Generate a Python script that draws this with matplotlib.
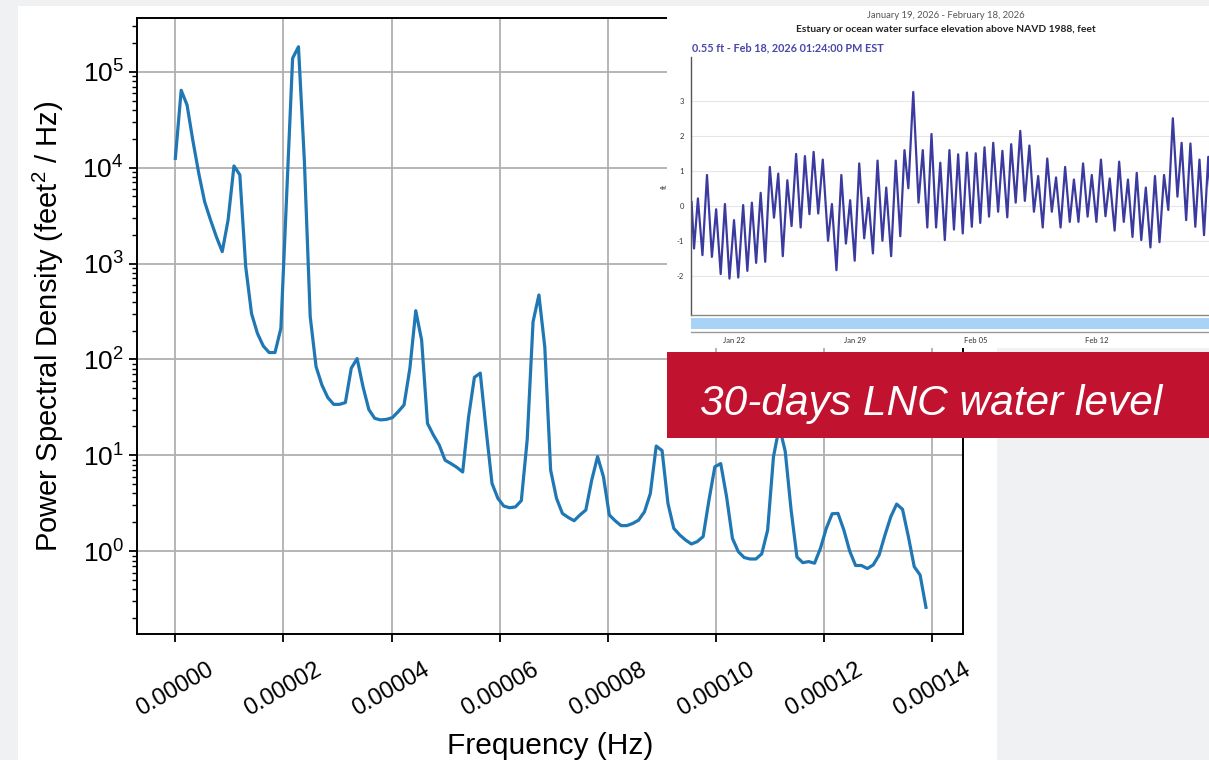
import numpy as np
import matplotlib
matplotlib.use("Agg")
import matplotlib.pyplot as plt
from matplotlib.patches import Rectangle
from matplotlib.lines import Line2D
from datetime import datetime

plt.rcParams['font.family'] = ['Liberation Sans', 'DejaVu Sans']
plt.rcParams['mathtext.fontset'] = 'custom'
plt.rcParams['mathtext.rm'] = 'Liberation Sans'
plt.rcParams['mathtext.it'] = 'Liberation Sans:italic'
plt.rcParams['mathtext.bf'] = 'Liberation Sans:bold'

# ---------------- data: power spectral density (Welch, 1-hour samples) ----------------
sample_interval_s = 3600
segment_length = 256
psd_values = [
    1.25e4, 6.4e4, 4.5e4, 1.9e4, 8.7e3, 4.4e3, 2.85e3, 1.9e3, 1.33e3, 2.85e3,
    1.04e4, 8.4e3, 930, 300, 187, 138, 118, 118, 211, 5.4e3,
    1.38e5, 1.82e5, 1.2e4, 280, 84, 54, 40, 34, 34, 35.5,
    81, 102, 52, 30, 24.3, 23.4, 23.7, 24.7, 28.5, 33.5,
    81, 322, 159, 21.5, 16.3, 12.8, 8.9, 8.2, 7.5, 6.7,
    25, 65, 72, 18.4, 5.1, 3.56, 2.96, 2.84, 2.9, 3.37,
    14.5, 247, 470, 135, 7.0, 3.56, 2.48, 2.25, 2.08, 2.39,
    2.69, 5.5, 9.7, 6.0, 2.39, 2.08, 1.85, 1.85, 1.95, 2.11,
    2.58, 4.0, 12.5, 11.2, 3.16, 1.73, 1.48, 1.31, 1.19, 1.26,
    1.42, 3.42, 7.6, 8.2, 3.7, 1.36, 0.99, 0.86, 0.83, 0.83,
    0.94, 1.66, 9.7, 20, 11, 2.7, 0.87, 0.76, 0.78, 0.75,
    1.07, 1.73, 2.46, 2.48, 1.66, 1.0, 0.71, 0.71, 0.66, 0.72,
    0.91, 1.47, 2.29, 3.1, 2.74, 1.42, 0.69, 0.565, 0.26,
]
freq_ticks = [0.0, 0.00002, 0.00004, 0.00006, 0.00008, 0.00010, 0.00012, 0.00014]
freq_tick_labels = ["0.00000", "0.00002", "0.00004", "0.00006", "0.00008",
                    "0.00010", "0.00012", "0.00014"]

# ---------------- data: 30-day water level (turning points), inset ----------------
series_start = datetime(2026, 1, 19, 13, 24)
hours_since_start = [
    0, 3.4, 8.8, 15.1, 21.4, 28.2, 34.1, 40.4, 46.3, 52.6,
    58.9, 64.8, 71.6, 77.4, 83.7, 89.6, 95.9, 102.2, 108.6, 114.4,
    120.3, 126.6, 132.9, 138.8, 145.1, 151.4, 157.3, 163.6, 169.4, 175.8,
    182.1, 189.4, 194.8, 201.1, 207.9, 214.2, 220.1, 226.4, 232.7, 239.6,
    245.4, 251.7, 258.1, 264.9, 270.2, 277.0, 283.4, 289.7, 295.5, 300.9,
    307.7, 315.0, 320.9, 327.2, 333.0, 339.4, 345.2, 351.5, 357.9, 364.2,
    370.0, 376.4, 382.2, 389.0, 394.4, 400.7, 406.6, 412.9, 418.7, 425.5,
    431.4, 438.2, 443.6, 449.9, 456.2, 462.6, 468.9, 475.2, 481.1, 487.4,
    493.7, 500.0, 505.9, 512.2, 518.5, 524.9, 530.7, 537.0, 543.4, 549.7,
    555.5, 561.9, 568.2, 574.5, 580.4, 587.2, 593.5, 599.9, 605.7, 612.0,
    617.9, 624.2, 630.5, 636.9, 643.2, 649.5, 655.8, 661.7, 668.0, 674.4,
    680.2, 686.5, 692.4, 699.2, 705.0, 711.3, 717.2, 719.6,
]
water_level_ft = [
    0.11, -1.22, 0.21, -1.41, 0.88, -1.46, -0.10, -1.95, 0.05, -2.08,
    -0.41, -2.05, 0.02, -1.86, 0.09, -1.63, 0.37, -1.60, 1.11, -0.34,
    0.92, -1.44, 0.73, -0.58, 1.48, -0.62, 1.42, -0.24, 1.54, -0.22,
    1.32, -1.00, 0.05, -1.84, 0.88, -1.08, 0.16, -1.57, 1.21, -0.93,
    0.23, -1.36, 1.29, -1.00, 0.52, -1.44, 1.29, -0.87, 1.59, 0.50,
    3.25, 0.09, 1.59, -0.62, 2.05, -0.62, 1.23, -0.98, 1.59, -0.68,
    1.47, -0.79, 1.52, -0.60, 1.50, -0.49, 1.67, -0.31, 1.80, -0.17,
    1.57, -0.33, 1.76, 0.09, 2.14, 0.14, 1.72, -0.17, 0.85, -0.62,
    1.35, -0.17, 0.81, -0.62, 1.11, -0.46, 0.75, -0.46, 1.21, -0.31,
    0.88, -0.46, 1.32, -0.30, 0.78, -0.71, 1.26, -0.46, 0.75, -0.89,
    0.94, -0.98, 0.52, -1.19, 0.85, -1.04, 0.88, -0.12, 2.50, 0.26,
    1.80, -0.41, 1.78, -0.60, 1.32, -0.84, 1.40, 0.55,
]
level_ticks = [-2, -1, 0, 1, 2, 3]
date_ticks = [datetime(2026, 1, 22), datetime(2026, 1, 29),
              datetime(2026, 2, 5), datetime(2026, 2, 12)]
date_tick_labels = ["Jan 22", "Jan 29", "Feb 05", "Feb 12"]

inset_subtitle = "January 19, 2026 - February 18, 2026"
inset_title = "Estuary or ocean water surface elevation above NAVD 1988, feet"
inset_latest = "0.55 ft - Feb 18, 2026 01:24:00 PM EST"
banner_text = "30-days LNC water level"

# ---------------- layout helpers ----------------
W, H = 1209, 760
fig = plt.figure(figsize=(W / 100, H / 100), dpi=100)
fig.patch.set_facecolor('#eff1f3')


def fx(px):
    return px / W


def fy(py):
    return 1 - py / H


def frect(x0, y0, x1, y1, color, z):
    r = Rectangle((fx(x0), fy(y1)), fx(x1) - fx(x0), fy(y0) - fy(y1),
                  transform=fig.transFigure, facecolor=color,
                  edgecolor='none', zorder=z)
    fig.add_artist(r)
    return r


# white slide panel
frect(18, 6, 997, 760, 'white', -5)

# ---------------- main PSD axes ----------------
freqs = np.fft.rfftfreq(segment_length, d=sample_interval_s)
ax = fig.add_axes([fx(137), fy(634), fx(963) - fx(137), fy(18) - fy(634)])
ax.set_zorder(1)
ax.plot(freqs, psd_values, color='#1f77b4', lw=2.3, solid_joinstyle='round')
ax.set_yscale('log')
ax.set_xlim(-7.09e-6, 1.4574e-4)
ax.set_ylim(10 ** -0.863, 10 ** 5.56)
ax.grid(True, which='major', color='#b0b0b0', lw=1.3)
ax.set_axisbelow(True)
ax.set_xticks(freq_ticks)
ax.set_xticklabels(freq_tick_labels, rotation=30, ha='center')
ax.tick_params(axis='x', labelsize=17, width=1.3, length=6, pad=12)
ax.tick_params(axis='y', which='major', labelsize=19, width=1.3, length=6)
ax.tick_params(axis='y', which='minor', width=1.0, length=3.5)
for s in ax.spines.values():
    s.set_linewidth(1.4)
ax.set_xlabel("Frequency (Hz)", fontsize=21.5, labelpad=8)
ax.set_ylabel("Power Spectral Density (feet$^{\\mathregular{2}}$ / Hz)", fontsize=21)
ax.yaxis.set_label_coords((66 - 137) / (963 - 137), 0.5)

# ---------------- inset screenshot ----------------
frect(667, 6, 1209, 348, 'white', 2)

tick_hours = [(d - series_start).total_seconds() / 3600 for d in date_ticks]

ax2 = fig.add_axes([fx(691), fy(315), fx(1209) - fx(691), fy(57) - fy(315)])
ax2.set_zorder(3)
ax2.set_facecolor('white')
ax2.plot(hours_since_start, water_level_ft, color='#3b3a9e', lw=1.6,
         solid_joinstyle='round')
ax2.set_xlim(-0.8, 718.2)
ax2.set_ylim(-3.12, 4.25)
ax2.set_yticks(level_ticks)
ax2.set_yticklabels([str(v) for v in level_ticks], family='Lato')
ax2.grid(True, axis='y', color='#e6e6e6', lw=0.8)
ax2.set_axisbelow(True)
ax2.tick_params(axis='y', length=0, labelsize=5.5, labelcolor='#333', pad=5)
ax2.set_xticks(tick_hours)
ax2.set_xticklabels(date_tick_labels, family='Lato')
ax2.tick_params(axis='x', length=0, labelsize=5.5, labelcolor='#333', pad=16)
for k in ['top', 'right']:
    ax2.spines[k].set_visible(False)
ax2.spines['left'].set_color('#555')
ax2.spines['left'].set_linewidth(1.0)
ax2.spines['bottom'].set_color('#888')
ax2.spines['bottom'].set_linewidth(1.0)
ax2.set_ylabel("ft", fontsize=5.5, family='Lato', labelpad=6, color='#333')

# navigator strip under the inset chart
frect(691, 318, 1209, 329, '#a8d3f7', 4)
fig.add_artist(Line2D([fx(691), fx(1209)], [fy(331.5), fy(331.5)],
                      transform=fig.transFigure, color='#999', lw=1.0, zorder=4))

fig.text(fx(946), fy(16), inset_subtitle, ha='center', va='center',
         fontsize=6.8, color='#555', family='Lato', zorder=5)
fig.text(fx(946), fy(30), inset_title, ha='center', va='center',
         fontsize=7.4, color='#222', family='Lato', weight='bold', zorder=5)
fig.text(fx(692), fy(48), inset_latest, ha='left', va='center',
         fontsize=7.8, color='#4a46aa', family='Lato', weight='bold', zorder=5)

# ---------------- red banner ----------------
frect(667, 352, 1209, 438, '#c1122f', 6)
fig.text(fx(700), fy(415), banner_text, ha='left', va='baseline',
         fontsize=30.5, style='italic', color='white', zorder=7)

fig.savefig("out.png", dpi=100, facecolor=fig.get_facecolor())
